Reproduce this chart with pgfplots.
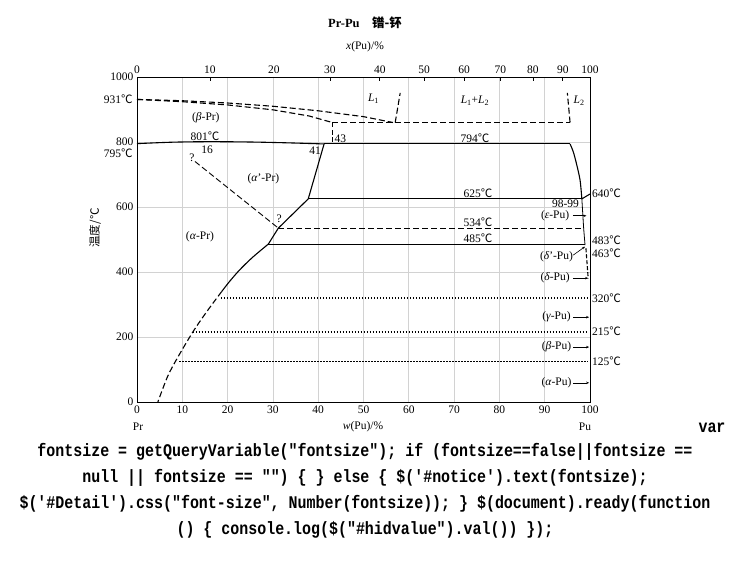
\documentclass[border=0pt]{standalone}
\usepackage{pgfplots}
\pgfplotsset{compat=1.18}
\usepackage{fontspec}
\setmainfont{Liberation Serif}
\newfontfamily\cjk{Noto Sans CJK SC}
\newfontfamily\jsfont{Liberation Mono}[FakeStretch=0.84]
\usetikzlibrary{arrows.meta}
\newcommand{\dC}{{\cjk ℃}}
\begin{document}
\begin{tikzpicture}[x=1pt,y=1pt]
\useasboundingbox (0,0) rectangle (730,579);
\fill[white] (0,0) rectangle (730,579);
% top axis (x(Pu) scale)
\begin{axis}[
  at={(137pt,177pt)}, anchor=south west,
  scale only axis, width=453pt, height=325pt,
  xmin=0, xmax=100, ymin=0, ymax=1000,
  axis x line*=top, axis y line=none,
  xtick={0,16.1,30.2,42.6,53.6,63.4,72.2,80.2,87.4,94.0,100},
  xticklabels={0,10,20,30,40,50,60,70,80,90,100},
  major tick length=4pt, tick align=inside,
  xtick style={black, line width=0.8pt},
  axis line style={black, line width=0.9pt},
  tick label style={font=\fontsize{11.5}{12}\selectfont},
  /pgf/number format/assume math mode=true,
]
\addplot[draw=none] coordinates {(0,0)};
\end{axis}
% main axis
\begin{axis}[
  at={(137pt,177pt)}, anchor=south west,
  scale only axis, width=453pt, height=325pt,
  xmin=0, xmax=100, ymin=0, ymax=1000,
  xtick={0,10,...,100}, ytick={0,200,...,1000},
  grid=major, major grid style={gray!35, line width=0.7pt},
  axis line style={black, line width=0.9pt},
  major tick length=0pt,
  tick label style={font=\fontsize{11.5}{12}\selectfont},
  /pgf/number format/assume math mode=true,
  /pgf/number format/1000 sep={},
  clip=false,
  every axis plot/.append style={black, line width=1.1pt, mark=none},
]
% liquidus (dashed)
\addplot[black, dash pattern=on 6pt off 3pt] coordinates {(0,931)(10,927)(20,920)(30,910)(40,896)(50,878)(56.5,860)};
% beta-Pr solidus (dashed)
\addplot[black, dash pattern=on 6pt off 3pt] coordinates {(0,931)(10,924)(20,914)(30,899)(38,880)(43.1,860)};
% 43 vertical
\addplot[black, dash pattern=on 5pt off 2.5pt] coordinates {(43.1,860)(43.1,794)};
% monotectic horizontal
\addplot[black, dash pattern=on 6pt off 3pt] coordinates {(43.1,860)(95.6,860)};
% L1 boundary
\addplot[black, dash pattern=on 6pt off 3pt] coordinates {(57,860)(58.1,951)};
% L2 boundary
\addplot[black, dash pattern=on 6pt off 3pt] coordinates {(95.6,860)(95.0,951)};
% 801/795/794 line
\addplot[black, solid, smooth] coordinates {(0,795)(8,799.5)(16,801)(25,800)(33,797.5)(41.3,794)};
\addplot[black, solid] coordinates {(41.3,794)(95.6,794)};
% Pu-rich liquidus / solidus
\addplot[black, solid, smooth] coordinates {(95.6,794)(96.3,770)(97.0,734)(97.8,683)(98.2,625)};
\addplot[black, solid] coordinates {(98.2,625)(100,640)};
\addplot[black, solid, line width=0.8pt] coordinates {(98.2,625)(98.6,534)(98.9,483)};
\addplot[black, dash pattern=on 4pt off 2pt] coordinates {(99.1,473)(99.6,380)};
% alpha' boundary
\addplot[black, solid] coordinates {(41.3,794)(37.8,625)(31.2,535)(29.0,486)};
\addplot[black, solid, smooth] coordinates {(29.0,486)(25.5,445)(22.7,407)(20.5,372)(18.7,340)};
\addplot[black, smooth, dash pattern=on 6pt off 3pt] coordinates {(18.7,340)(15.5,280)(12.4,217)(9.1,140)(6.8,80)(4.6,0)};
% horizontals
\addplot[black, solid] coordinates {(37.8,625)(98.2,625)};
\addplot[black, dash pattern=on 6pt off 3pt] coordinates {(31.2,534)(98.6,534)};
\addplot[black, solid] coordinates {(29.0,485)(98.9,485)};
\addplot[black, dash pattern=on 6pt off 3pt, line width=0.9pt] coordinates {(12.8,740)(31.2,535)};
\addplot[black, line width=1.5pt, dash pattern=on 1.4pt off 1.6pt] coordinates {(18.5,320)(99.5,320)};
\addplot[black, line width=1.5pt, dash pattern=on 1.4pt off 1.6pt] coordinates {(12.3,215)(99.5,215)};
\addplot[black, line width=1.5pt, dash pattern=on 1.4pt off 1.6pt] coordinates {(9.3,125)(99.5,125)};
% labels inside
\begin{scope}[every node/.style={font=\fontsize{11.5}{12}\selectfont, inner sep=0pt}]
\node at (axis cs:52.2,934) {\textit{L}\textsubscript{1}};
\node at (axis cs:74.6,927) {\textit{L}\textsubscript{1}+\textit{L}\textsubscript{2}};
\node at (axis cs:97.6,927) {\textit{L}\textsubscript{2}};
\node at (axis cs:15.2,875) {(\textit{β}-Pr)};
\node at (axis cs:15.0,818) {801\dC};
\node at (axis cs:15.5,775) {16};
\node at (axis cs:39.3,773) {41};
\node at (axis cs:44.9,811) {43};
\node at (axis cs:74.6,811) {794\dC};
\node at (axis cs:27.9,688) {(\textit{α}'-Pr)};
\node at (axis cs:13.9,507) {(\textit{α}-Pr)};
\node at (axis cs:12.1,750) {?};
\node at (axis cs:31.4,563) {?};
\node at (axis cs:75.3,644) {625\dC};
\node at (axis cs:75.3,552) {534\dC};
\node at (axis cs:75.3,504) {485\dC};
\node at (axis cs:94.6,609) {98-99};
\node at (axis cs:92.3,573) {(\textit{ε}-Pu)};
\node at (axis cs:92.6,448) {(\textit{δ}'-Pu)};
\node at (axis cs:92.3,381) {(\textit{δ}-Pu)};
\node at (axis cs:92.6,261) {(\textit{γ}-Pu)};
\node at (axis cs:92.6,169) {(\textit{β}-Pu)};
\node at (axis cs:92.6,59) {(\textit{α}-Pu)};
\node[anchor=west] at (axis cs:100.4,642) {640\dC};
\node[anchor=west] at (axis cs:100.4,497) {483\dC};
\node[anchor=west] at (axis cs:100.4,459) {463\dC};
\node[anchor=west] at (axis cs:100.4,320) {320\dC};
\node[anchor=west] at (axis cs:100.4,217) {215\dC};
\node[anchor=west] at (axis cs:100.4,125) {125\dC};
\node[anchor=east] at (axis cs:-0.9,931) {931\dC};
\node[anchor=east] at (axis cs:-0.9,766) {795\dC};
\end{scope}
% leader lines
\begin{scope}[line width=0.6pt, -{Stealth[length=3pt,width=2.5pt]}]
\draw (axis cs:96.2,573) -- (axis cs:99.2,573);
\draw (axis cs:96.2,381) -- (axis cs:99.6,381);
\draw (axis cs:96.3,261) -- (axis cs:99.8,261);
\draw (axis cs:96.3,169) -- (axis cs:99.8,169);
\draw (axis cs:96.3,59) -- (axis cs:99.8,59);
\draw (axis cs:96.3,452) -- (axis cs:98.9,478);
\end{scope}
\end{axis}
% outside texts
\node[font=\bfseries\fontsize{12.5}{13}\selectfont] at (365,556) {Pr-Pu\quad{\cjk\bfseries 镨-钚}};
\node[font=\fontsize{11.5}{12}\selectfont] at (365,532) {\textit{x}(Pu)/\%};
\node[rotate=90, font=\cjk\fontsize{11.5}{12}\selectfont] at (95,351) {温度/℃};
\node[font=\fontsize{11.5}{12}\selectfont] at (138,152) {Pr};
\node[font=\fontsize{11.5}{12}\selectfont] at (363,152) {\textit{w}(Pu)/\%};
\node[font=\fontsize{11.5}{12}\selectfont] at (585,152) {Pu};
\begin{scope}[every node/.style={font=\jsfont\bfseries\fontsize{17.8}{20}\selectfont, inner sep=0pt}]
\node at (712,151) {var};
\node at (365,127) {fontsize = getQueryVariable("fontsize"); if (fontsize==false||fontsize ==};
\node at (365,101) {null || fontsize == "") \{ \} else \{ \$('\#notice').text(fontsize);};
\node at (365,75) {\$('\#Detail').css("font-size", Number(fontsize)); \} \$(document).ready(function};
\node at (365,49) {() \{ console.log(\$("\#hidvalue").val()) \});};
\end{scope}
\end{tikzpicture}
\end{document}
